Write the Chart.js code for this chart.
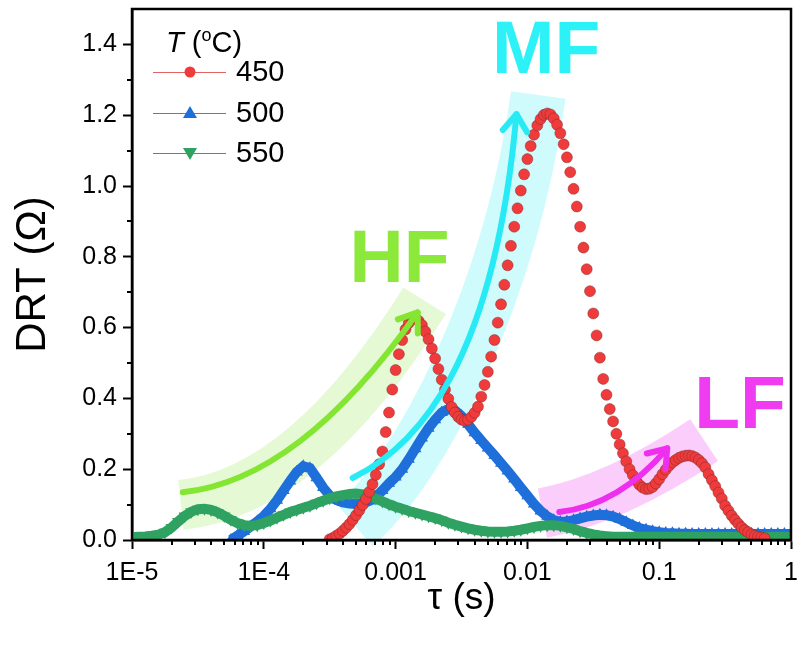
<!DOCTYPE html>
<html><head><meta charset="utf-8">
<script src="https://cdn.jsdelivr.net/npm/chart.js@4/dist/chart.umd.min.js"></script>
<style>html,body{margin:0;padding:0;background:#fff;}#wrap{width:798px;height:646px;}</style>
</head><body><div id="wrap"><canvas id="c" width="798" height="646"></canvas></div>
<script>
const FONT = '"Liberation Sans", Arial, Helvetica, sans-serif';
const seriesNames = ['450', '500', '550'];
const legendTitle = ['T', ' (', 'o', 'C)'];

// tau grid for T = 450 (s)
const tau450 = [
3.162e-4,3.350e-4,3.548e-4,3.758e-4,3.981e-4,4.217e-4,4.467e-4,4.732e-4,5.012e-4,5.309e-4,5.623e-4,5.957e-4,6.310e-4,6.683e-4,7.079e-4,7.499e-4,7.943e-4,8.414e-4,8.913e-4,9.441e-4,
1.000e-3,1.059e-3,1.122e-3,1.189e-3,1.259e-3,1.334e-3,1.413e-3,1.496e-3,1.585e-3,1.679e-3,1.778e-3,1.884e-3,1.995e-3,2.113e-3,2.239e-3,2.371e-3,2.512e-3,2.661e-3,2.818e-3,2.985e-3,
3.162e-3,3.350e-3,3.548e-3,3.758e-3,3.981e-3,4.217e-3,4.467e-3,4.732e-3,5.012e-3,5.309e-3,5.623e-3,5.957e-3,6.310e-3,6.683e-3,7.079e-3,7.499e-3,7.943e-3,8.414e-3,8.913e-3,9.441e-3,
1.000e-2,1.059e-2,1.122e-2,1.189e-2,1.259e-2,1.334e-2,1.413e-2,1.496e-2,1.585e-2,1.679e-2,1.778e-2,1.884e-2,1.995e-2,2.113e-2,2.239e-2,2.371e-2,2.512e-2,2.661e-2,2.818e-2,2.985e-2,
3.162e-2,3.350e-2,3.548e-2,3.758e-2,3.981e-2,4.217e-2,4.467e-2,4.732e-2,5.012e-2,5.309e-2,5.623e-2,5.957e-2,6.310e-2,6.683e-2,7.079e-2,7.499e-2,7.943e-2,8.414e-2,8.913e-2,9.441e-2,
1.000e-1,1.059e-1,1.122e-1,1.189e-1,1.259e-1,1.334e-1,1.413e-1,1.496e-1,1.585e-1,1.679e-1,1.778e-1,1.884e-1,1.995e-1,2.113e-1,2.239e-1,2.371e-1,2.512e-1,2.661e-1,2.818e-1,2.985e-1,
3.162e-1,3.350e-1,3.548e-1,3.758e-1,3.981e-1,4.217e-1,4.467e-1,4.732e-1,5.012e-1,5.309e-1,5.623e-1,5.957e-1,6.310e-1
];
const drt450 = [
0.002,0.006,0.012,0.018,0.026,0.035,0.045,0.057,0.070,0.084,0.099,0.116,0.136,0.158,0.184,0.214,0.250,0.305,0.360,0.425,
0.480,0.525,0.565,0.595,0.613,0.627,0.627,0.619,0.607,0.589,0.567,0.541,0.513,0.483,0.453,0.425,0.399,0.376,0.360,0.348,
0.340,0.337,0.340,0.348,0.360,0.377,0.405,0.438,0.475,0.518,0.565,0.614,0.666,0.721,0.776,0.831,0.885,0.937,0.987,1.033,
1.076,1.113,1.145,1.171,1.189,1.201,1.205,1.202,1.191,1.173,1.149,1.118,1.081,1.039,0.992,0.942,0.885,0.826,0.765,0.703,
0.640,0.578,0.515,0.455,0.410,0.370,0.335,0.300,0.270,0.245,0.222,0.200,0.183,0.168,0.156,0.148,0.144,0.145,0.150,0.160,
0.172,0.186,0.199,0.210,0.219,0.226,0.232,0.236,0.238,0.239,0.237,0.233,0.226,0.217,0.205,0.186,0.169,0.152,0.134,0.117,
0.097,0.083,0.069,0.057,0.046,0.036,0.028,0.022,0.016,0.012,0.009,0.007,0.005
];

// tau grid for T = 500 and 550 (s)
const tauGrid = [
1.000e-5,1.122e-5,1.259e-5,1.413e-5,1.585e-5,1.778e-5,1.995e-5,2.239e-5,2.512e-5,2.818e-5,3.162e-5,3.548e-5,3.981e-5,4.467e-5,5.012e-5,5.623e-5,6.310e-5,7.079e-5,7.943e-5,8.913e-5,
1.000e-4,1.122e-4,1.259e-4,1.413e-4,1.585e-4,1.778e-4,1.995e-4,2.239e-4,2.512e-4,2.818e-4,3.162e-4,3.548e-4,3.981e-4,4.467e-4,5.012e-4,5.623e-4,6.310e-4,7.079e-4,7.943e-4,8.913e-4,
1.000e-3,1.122e-3,1.259e-3,1.413e-3,1.585e-3,1.778e-3,1.995e-3,2.239e-3,2.512e-3,2.818e-3,3.162e-3,3.548e-3,3.981e-3,4.467e-3,5.012e-3,5.623e-3,6.310e-3,7.079e-3,7.943e-3,8.913e-3,
1.000e-2,1.122e-2,1.259e-2,1.413e-2,1.585e-2,1.778e-2,1.995e-2,2.239e-2,2.512e-2,2.818e-2,3.162e-2,3.548e-2,3.981e-2,4.467e-2,5.012e-2,5.623e-2,6.310e-2,7.079e-2,7.943e-2,8.913e-2,
1.000e-1,1.122e-1,1.259e-1,1.413e-1,1.585e-1,1.778e-1,1.995e-1,2.239e-1,2.512e-1,2.818e-1,3.162e-1,3.548e-1,3.981e-1,4.467e-1,5.012e-1,5.623e-1,6.310e-1,7.079e-1,7.943e-1,8.913e-1,
1.000
];
const drt500 = [
null,null,null,null,null,null,null,null,null,null,null,null,null,null,null,
0.000,0.012,0.024,0.038,0.052,0.068,0.088,0.112,0.140,0.167,0.192,0.208,0.203,0.176,0.148,0.126,0.113,0.106,0.103,0.102,
0.104,0.110,0.122,0.140,0.160,0.178,0.200,0.228,0.258,0.288,0.316,0.340,0.360,0.370,0.366,0.350,0.327,0.303,0.281,0.260,
0.239,0.217,0.195,0.172,0.148,0.125,0.102,0.082,0.067,0.056,0.051,0.052,0.056,0.061,0.066,0.069,0.071,0.070,0.066,0.059,
0.050,0.041,0.034,0.029,0.025,0.022,0.020,0.019,0.018,0.018,0.017,0.017,0.017,0.017,0.017,0.017,0.017,0.017,0.017,0.017,
0.017,0.017,0.017,0.017,0.017,0.017
];
const drt550 = [
0.008,0.009,0.010,0.012,0.015,0.022,0.035,0.052,0.068,0.080,0.087,0.088,0.085,0.078,0.068,0.057,0.048,0.042,0.040,0.042,
0.048,0.055,0.063,0.071,0.079,0.085,0.091,0.097,0.104,0.111,0.118,0.123,0.127,0.130,0.131,0.129,0.124,0.117,0.109,0.101,
0.094,0.088,0.082,0.077,0.072,0.067,0.062,0.056,0.049,0.043,0.038,0.033,0.029,0.026,0.024,0.023,0.023,0.024,0.026,0.029,
0.033,0.037,0.040,0.042,0.042,0.040,0.036,0.031,0.025,0.020,0.016,0.013,0.011,0.009,0.009,0.009,0.009,0.009,0.009,0.009,
0.009,0.009,0.009,0.009,0.009,0.009,0.009,0.009,0.009,0.009,0.009,0.009,0.009,0.009,0.009,0.009,0.009,0.009,0.009,0.009,
0.009
];

const xTickValues = [1e-5, 1e-4, 1e-3, 1e-2, 1e-1, 1];
const xTickLabels = ['1E-5', '1E-4', '0.001', '0.01', '0.1', '1'];
const yTickValues = [0, 0.2, 0.4, 0.6, 0.8, 1.0, 1.2, 1.4];
const yTickLabels = ['0.0', '0.2', '0.4', '0.6', '0.8', '1.0', '1.2', '1.4'];
const yMinorValues = [0.1, 0.3, 0.5, 0.7, 0.9, 1.1, 1.3];
const xMinorFactors = [2, 3, 4, 5, 6, 7, 8, 9];

const C450 = '#EF3B3B', C500 = '#1F6FDA', C550 = '#2FA262';

// decorative annotations, in data units (tau, DRT)
const annos = [
  { label: 'HF', text: '#8DE83C', arrow: '#84E632', band: 'rgba(150,230,90,0.26)', bandW: 50,
    bandPath: [[2.35e-5,0.099],[2.05e-4,0.135],[1.66e-3,0.676]],
    arrowPath: [[2.43e-5,0.135],[1.87e-4,0.169],[1.47e-3,0.643]],
    textAt: [1.07e-3, 0.73] },
  { label: 'MF', text: '#2CF2F7', arrow: '#28EAF5', band: 'rgba(40,235,240,0.22)', bandW: 55,
    bandPath: [[4.89e-4,0.042],[1.52e-3,0.197],[7.31e-3,0.676],[1.21e-2,1.257]],
    arrowPath: [[4.72e-4,0.175],[1.52e-3,0.268],[5.62e-3,0.507],[8.26e-3,1.203]],
    textAt: [1.39e-2, 1.318] },
  { label: 'LF', text: '#F03CF0', arrow: '#EE30EE', band: 'rgba(240,90,240,0.30)', bandW: 50,
    bandPath: [[1.30e-2,0.076],[4.56e-2,0.113],[0.219,0.282]],
    arrowPath: [[1.746e-2,0.079],[4.98e-2,0.099],[0.115,0.259]],
    textAt: [0.411, 0.315] }
];

function pts(chart, path) {
  const xs = chart.scales.x, ys = chart.scales.y;
  return path.map(p => [xs.getPixelForValue(p[0]), ys.getPixelForValue(p[1])]);
}
function tracePath(ctx, p) {
  ctx.beginPath();
  ctx.moveTo(p[0][0], p[0][1]);
  if (p.length === 3) ctx.quadraticCurveTo(p[1][0], p[1][1], p[2][0], p[2][1]);
  else ctx.bezierCurveTo(p[1][0], p[1][1], p[2][0], p[2][1], p[3][0], p[3][1]);
}

const bandsPlugin = {
  id: 'bands',
  beforeDatasetsDraw(chart) {
    const ctx = chart.ctx;
    ctx.save();
    annos.forEach(a => {
      const p = pts(chart, a.bandPath);
      ctx.strokeStyle = a.band; ctx.lineWidth = a.bandW; ctx.lineCap = 'butt';
      tracePath(ctx, p); ctx.stroke();
    });
    ctx.restore();
  }
};

const arrowsPlugin = {
  id: 'arrows',
  afterDatasetsDraw(chart) {
    const ctx = chart.ctx;
    ctx.save();
    annos.forEach(a => {
      const p = pts(chart, a.arrowPath);
      ctx.strokeStyle = a.arrow; ctx.lineWidth = 6; ctx.lineCap = 'round'; ctx.lineJoin = 'round';
      tracePath(ctx, p); ctx.stroke();
      const e = p[p.length - 1], c = p[p.length - 2];
      const ang = Math.atan2(e[1] - c[1], e[0] - c[0]);
      const L = 21, spread = 0.62;
      ctx.beginPath();
      ctx.moveTo(e[0] - L * Math.cos(ang - spread), e[1] - L * Math.sin(ang - spread));
      ctx.lineTo(e[0], e[1]);
      ctx.lineTo(e[0] - L * Math.cos(ang + spread), e[1] - L * Math.sin(ang + spread));
      ctx.stroke();
      const t = pts(chart, [a.textAt])[0];
      ctx.fillStyle = a.text;
      ctx.font = 'bold 75px ' + FONT;
      ctx.textAlign = 'center'; ctx.textBaseline = 'alphabetic';
      ctx.fillText(a.label, t[0], t[1]);
    });
    ctx.restore();
  }
};

const framePlugin = {
  id: 'frame',
  afterDraw(chart) {
    const ctx = chart.ctx, ca = chart.chartArea;
    const xs = chart.scales.x, ys = chart.scales.y;
    ctx.save();
    ctx.strokeStyle = '#000'; ctx.lineWidth = 2;
    ctx.beginPath();
    xTickValues.slice(0, -1).forEach(d => {
      xMinorFactors.forEach(m => {
        const px = Math.round(xs.getPixelForValue(m * d));
        ctx.moveTo(px, ca.bottom); ctx.lineTo(px, ca.bottom + 5);
      });
    });
    yMinorValues.forEach(v => {
      const py = Math.round(ys.getPixelForValue(v));
      ctx.moveTo(ca.left - 5, py); ctx.lineTo(ca.left, py);
    });
    ctx.stroke();
    ctx.lineWidth = 2.5;
    ctx.strokeRect(ca.left, ca.top, ca.right - ca.left, ca.bottom - ca.top);

    // legend
    const colors = [C450, C500, C550];
    const lineCols = ['#E06262', '#4C7FCC', '#3F9A6A'];
    const styles = ['circle', 'up', 'down'];
    const x0 = 153, x1 = 226, xm = 190, ys0 = [72, 113, 153];
    let tx = 166;
    const tb = 52;
    ctx.fillStyle = '#000'; ctx.textBaseline = 'alphabetic'; ctx.textAlign = 'left';
    ctx.font = 'italic 29px ' + FONT; ctx.fillText(legendTitle[0], tx, tb); tx += ctx.measureText(legendTitle[0]).width;
    ctx.font = '29px ' + FONT; ctx.fillText(legendTitle[1], tx, tb); tx += ctx.measureText(legendTitle[1]).width;
    ctx.font = '18px ' + FONT; ctx.fillText(legendTitle[2], tx, tb - 11); tx += ctx.measureText(legendTitle[2]).width;
    ctx.font = '29px ' + FONT; ctx.fillText(legendTitle[3], tx, tb);
    seriesNames.forEach((n, i) => {
      const y = ys0[i];
      ctx.strokeStyle = lineCols[i]; ctx.lineWidth = 1;
      ctx.beginPath(); ctx.moveTo(x0, y + 0.5); ctx.lineTo(x1, y + 0.5); ctx.stroke();
      ctx.fillStyle = colors[i];
      ctx.beginPath();
      if (styles[i] === 'circle') ctx.arc(xm, y, 5.5, 0, Math.PI * 2);
      else if (styles[i] === 'up') { ctx.moveTo(xm, y - 7); ctx.lineTo(xm + 7, y + 5); ctx.lineTo(xm - 7, y + 5); ctx.closePath(); }
      else { ctx.moveTo(xm, y + 7); ctx.lineTo(xm + 7, y - 5); ctx.lineTo(xm - 7, y - 5); ctx.closePath(); }
      ctx.fill();
      ctx.fillStyle = '#000'; ctx.font = '29px ' + FONT; ctx.textBaseline = 'middle';
      ctx.fillText(n, 236, y + 1);
      ctx.textBaseline = 'alphabetic';
    });
    ctx.restore();
  }
};

const datasets = [
  { label: seriesNames[0], data: tau450.map((t, i) => ({ x: t, y: drt450[i] })),
    showLine: false, pointStyle: 'circle', pointRadius: 5.5, pointHoverRadius: 5.5,
    pointBackgroundColor: C450, pointBorderColor: 'rgba(120,40,40,0.55)', pointBorderWidth: 0.8,
    order: 1, clip: 0 },
  { label: seriesNames[1], data: tauGrid.map((t, i) => ({ x: t, y: drt500[i] })),
    showLine: true, borderColor: C500, borderWidth: 10, spanGaps: false,
    pointStyle: 'triangle', pointRadius: 7, pointHoverRadius: 7,
    pointBackgroundColor: C500, pointBorderWidth: 0, order: 3, clip: 0 },
  { label: seriesNames[2], data: tauGrid.map((t, i) => ({ x: t, y: drt550[i] })),
    showLine: true, borderColor: C550, borderWidth: 10,
    pointStyle: 'triangle', pointRotation: 180, pointRadius: 7, pointHoverRadius: 7,
    pointBackgroundColor: C550, pointBorderWidth: 0, order: 2, clip: 0 }
];

new Chart(document.getElementById('c'), {
  type: 'scatter',
  data: { datasets },
  options: {
    responsive: false, animation: false, devicePixelRatio: 1,
    layout: { padding: { top: 9, right: 6, left: 0, bottom: 0 } },
    plugins: { legend: { display: false }, tooltip: { enabled: false } },
    scales: {
      x: {
        type: 'logarithmic', min: 1e-5, max: 1,
        afterBuildTicks: s => { s.ticks = xTickValues.map(v => ({ value: v })); },
        afterFit: s => { s.height = 106; s.paddingLeft = 0; s.paddingRight = 0; },
        ticks: { callback: (v, i) => xTickLabels[i], font: { size: 25, family: FONT }, color: '#000',
                 maxRotation: 0, autoSkip: false, padding: 9 },
        grid: { drawOnChartArea: false, drawTicks: true, tickLength: 9, tickWidth: 2, tickColor: '#000' },
        border: { display: true, width: 2.5, color: '#000' },
        title: { display: true, text: 'τ (s)', font: { size: 37, family: FONT }, color: '#000',
                 padding: { top: 0, bottom: 25 } }
      },
      y: {
        type: 'linear', min: 0, max: 1.5,
        afterBuildTicks: s => { s.ticks = yTickValues.map(v => ({ value: v })); },
        afterFit: s => { s.width = 132; s.paddingTop = 0; s.paddingBottom = 0; },
        ticks: { callback: (v, i) => yTickLabels[i], font: { size: 25, family: FONT }, color: '#000', padding: 6 },
        grid: { drawOnChartArea: false, drawTicks: true, tickLength: 9, tickWidth: 2, tickColor: '#000' },
        border: { display: true, width: 2.5, color: '#000' },
        title: { display: true, text: 'DRT (Ω)', font: { size: 42, family: FONT }, color: '#000',
                 padding: { top: 8, bottom: 0 } }
      }
    }
  },
  plugins: [bandsPlugin, arrowsPlugin, framePlugin]
});
</script>
</body></html>
